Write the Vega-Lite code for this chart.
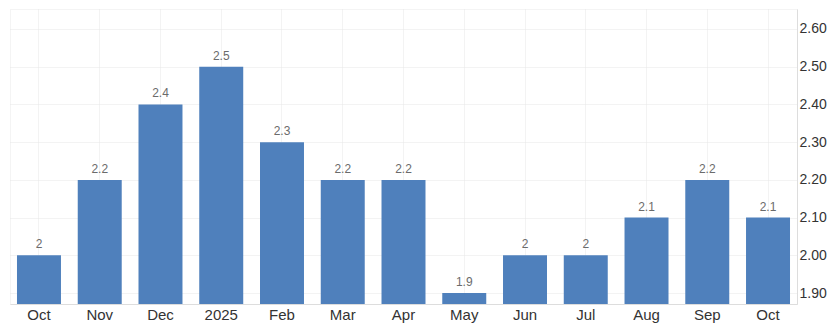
{
  "$schema": "https://vega.github.io/schema/vega-lite/v6.json",
  "width": 787,
  "height": 295,
  "padding": {"left": 10, "top": 9, "right": 5, "bottom": 5},
  "autosize": {"type": "pad"},
  "background": "white",
  "config": {
    "font": "Liberation Sans",
    "view": {"stroke": "#e8e8e8", "strokeDash": [1, 1]}
  },
  "data": {
    "values": [
      {"key": "Oct|2024", "value": 2.0},
      {"key": "Nov|2024", "value": 2.2},
      {"key": "Dec|2024", "value": 2.4},
      {"key": "2025|Jan", "value": 2.5},
      {"key": "Feb|2025", "value": 2.3},
      {"key": "Mar|2025", "value": 2.2},
      {"key": "Apr|2025", "value": 2.2},
      {"key": "May|2025", "value": 1.9},
      {"key": "Jun|2025", "value": 2.0},
      {"key": "Jul|2025", "value": 2.0},
      {"key": "Aug|2025", "value": 2.1},
      {"key": "Sep|2025", "value": 2.2},
      {"key": "Oct|2025", "value": 2.1}
    ]
  },
  "encoding": {
    "x": {
      "field": "key",
      "type": "ordinal",
      "sort": null,
      "scale": {"paddingInner": 0.276, "paddingOuter": 0.115},
      "axis": {
        "title": null,
        "labelAngle": 0,
        "labelExpr": "split(datum.value, '|')[0]",
        "labelFontSize": 15,
        "labelColor": "#333333",
        "labelPadding": 3,
        "ticks": false,
        "domainColor": "#dddddd",
        "grid": true,
        "bandPosition": 0.5,
        "gridColor": "#e6e6e6",
        "gridDash": [1, 1]
      }
    },
    "y": {
      "field": "value",
      "type": "quantitative",
      "scale": {"domain": [1.871, 2.653], "nice": false, "zero": false},
      "axis": {
        "title": null,
        "orient": "right",
        "values": [1.9, 2.0, 2.1, 2.2, 2.3, 2.4, 2.5, 2.6],
        "format": ".2f",
        "labelFontSize": 14,
        "labelColor": "#333333",
        "labelPadding": 2,
        "ticks": false,
        "domainColor": "#dddddd",
        "gridColor": "#e6e6e6",
        "gridDash": [1, 1]
      }
    }
  },
  "layer": [
    {"mark": {"type": "bar", "color": "#4f80bc", "clip": true}},
    {
      "mark": {"type": "text", "dy": -7, "fontSize": 12, "color": "#6b6b6b", "baseline": "alphabetic"},
      "encoding": {"text": {"field": "value", "type": "quantitative", "format": ".2~f"}}
    }
  ]
}
